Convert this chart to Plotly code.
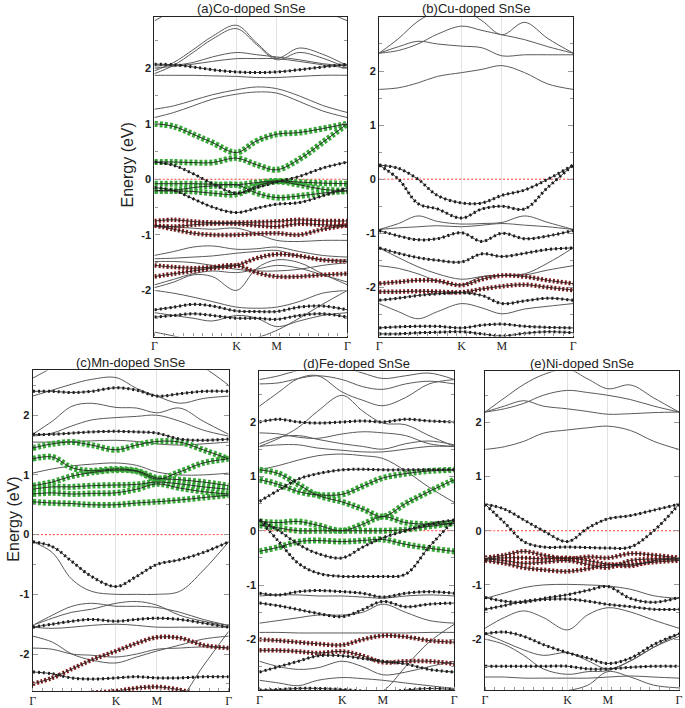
import plotly.graph_objects as go

W, H = 685, 708

# k-path: Γ -> K -> M -> Γ (normalised path length)
K_POS = 0.425
M_POS = 0.633
kpts = [0.0, 0.1, 0.2, 0.3, K_POS, 0.53, M_POS, 0.75, 0.87, 1.0]
path_labels = ["Γ", "K", "M", "Γ"]
energy_ticks = [-2, -1, 0, 1, 2]
energy_text = ["-2", "-1", "0", "1", "2"]

# ---- (a) Co-doped SnSe ----
co_gray = [
    [2.85, 3.05, 3.3, 3.4, 3.5, 3.4, 3.3, 3.3, 3.05, 2.85],
    [1.95, 2.1, 2.33, 2.57, 2.77, 2.45, 2.18, 2.36, 2.25, 2.04],
    [1.90, 2.05, 2.28, 2.52, 2.71, 2.42, 2.15, 2.28, 2.18, 2.0],
    [2.04, 2.05, 2.1, 2.2, 2.28, 2.24, 2.2, 2.15, 2.08, 2.04],
    [2.0, 2.03, 2.07, 2.12, 2.17, 2.17, 2.17, 2.12, 2.06, 2.0],
    [1.87, 1.87, 1.87, 1.86, 1.85, 1.83, 1.83, 1.85, 1.87, 1.87],
    [1.26, 1.32, 1.42, 1.52, 1.61, 1.66, 1.63, 1.5, 1.33, 1.2],
    [1.11, 1.2, 1.32, 1.44, 1.53, 1.57, 1.55, 1.4, 1.23, 1.11],
    [-0.85, -0.86, -0.88, -0.9, -0.88, -0.98, -1.1, -1.12, -1.1, -1.1],
    [-1.37, -1.3, -1.22, -1.2, -1.26, -1.25, -1.22, -1.3, -1.37, -1.4],
    [-1.43, -1.42, -1.4, -1.38, -1.33, -1.3, -1.28, -1.38, -1.45, -1.45],
    [-1.48, -1.48, -1.5, -1.55, -1.62, -1.65, -1.65, -1.62, -1.55, -1.5],
    [-1.9, -1.8, -1.7, -1.65, -1.68, -1.62, -1.55, -1.6, -1.72, -1.85],
    [-1.95, -1.85, -1.72, -1.75, -2.0, -1.6, -1.45, -1.5, -1.7, -1.9],
    [-2.0, -2.05, -2.12, -2.2, -2.3, -2.32, -2.3, -2.2, -2.05, -2.0],
    [-2.4, -2.45, -2.5, -2.55, -2.45, -2.5, -2.65, -2.55, -2.45, -2.4],
    [-2.75, -2.82, -2.9, -2.95, -2.92, -2.85, -2.72, -2.5, -2.25, -2.0],
]
co_dots = [
    [2.07, 2.06, 2.02, 1.97, 1.93, 1.92, 1.93, 1.97, 2.02, 2.07],
    [0.31, 0.25, 0.1, -0.08, -0.25, -0.15, -0.05, 0.05, 0.2, 0.31],
    [-0.15, -0.2, -0.35, -0.5, -0.6, -0.52, -0.45, -0.42, -0.3, -0.15],
    [-2.35, -2.3, -2.25, -2.28, -2.37, -2.38, -2.38, -2.3, -2.28, -2.35],
    [-2.48, -2.45, -2.42, -2.45, -2.5, -2.5, -2.52, -2.45, -2.42, -2.48],
]
co_green = [
    [1.0, 0.95, 0.81, 0.66, 0.48, 0.69, 0.81, 0.84, 0.91, 1.0],
    [0.31, 0.31, 0.3, 0.3, 0.38, 0.26, 0.17, 0.36, 0.66, 1.0],
    [-0.08, -0.08, -0.08, -0.09, -0.1, -0.06, -0.03, -0.05, -0.07, -0.08],
    [-0.21, -0.21, -0.22, -0.25, -0.27, -0.12, -0.04, -0.1, -0.18, -0.21],
    [-0.2, -0.2, -0.15, -0.12, -0.1, -0.25, -0.33, -0.3, -0.25, -0.21],
]
co_red = [
    [-0.75, -0.73, -0.76, -0.78, -0.78, -0.77, -0.76, -0.73, -0.75, -0.75],
    [-0.83, -0.85, -0.82, -0.8, -0.8, -0.83, -0.85, -0.8, -0.82, -0.83],
    [-0.83, -0.9, -0.97, -1.0, -1.0, -0.98, -0.97, -1.0, -0.9, -0.83],
    [-1.75, -1.7, -1.65, -1.6, -1.55, -1.42, -1.35, -1.38, -1.45, -1.48],
    [-1.55, -1.58, -1.6, -1.58, -1.55, -1.68, -1.75, -1.75, -1.72, -1.7],
]

# ---- (b) Cu-doped SnSe ----
cu_gray = [
    [2.33, 2.6, 2.92, 3.1, 3.15, 2.93, 2.67, 2.9, 2.6, 2.33],
    [2.33, 2.38, 2.5, 2.68, 2.83, 2.75, 2.67, 2.58, 2.45, 2.33],
    [2.33, 2.45, 2.55, 2.5, 2.46, 2.43, 2.28, 2.3, 2.3, 2.3],
    [1.66, 1.69, 1.78, 1.9, 1.97, 2.03, 2.1, 1.97, 1.76, 1.66],
    [-0.93, -0.82, -0.68, -0.78, -0.83, -0.82, -0.8, -0.68, -0.8, -0.93],
    [-0.93, -0.9, -0.88, -0.86, -0.88, -0.85, -0.82, -0.85, -0.88, -0.93],
    [-1.27, -1.45, -1.62, -1.75, -1.85, -1.8, -1.78, -1.75, -1.55, -1.27],
    [-1.6, -1.65, -1.75, -1.88, -1.95, -1.8, -1.78, -1.77, -1.68, -1.6],
    [-2.3, -2.45, -2.58, -2.45, -2.3, -2.38, -2.49, -2.4, -2.35, -2.3],
]
cu_dots = [
    [0.26, 0.0, -0.45, -0.55, -0.72, -0.55, -0.5, -0.55, -0.15, 0.26],
    [0.26, 0.2, 0.0, -0.3, -0.44, -0.44, -0.3, -0.2, 0.0, 0.26],
    [-0.95, -1.05, -1.12, -1.1, -0.99, -1.15, -1.0, -1.1, -1.05, -0.95],
    [-1.27, -1.37, -1.45, -1.5, -1.53, -1.38, -1.43, -1.37, -1.3, -1.27],
    [-2.24, -2.2, -2.15, -2.12, -2.1, -2.15, -2.3, -2.25, -2.2, -2.24],
    [-2.75, -2.73, -2.72, -2.72, -2.75, -2.7, -2.68, -2.72, -2.74, -2.75],
    [-2.86, -2.86, -2.84, -2.83, -2.82, -2.86, -2.9, -2.85, -2.82, -2.84],
]
cu_green = []
cu_red = [
    [-1.93, -1.9, -1.87, -1.88, -1.96, -1.85, -1.78, -1.8, -1.87, -1.93],
    [-2.08, -2.08, -2.07, -2.08, -2.09, -2.03, -1.98, -1.95, -2.0, -2.05],
]

# ---- (c) Mn-doped SnSe ----
mn_gray = [
    [2.62, 2.8, 3.0, 3.1, 3.1, 3.1, 3.0, 2.95, 2.8, 2.5],
    [2.32, 2.42, 2.52, 2.6, 2.63, 2.45, 2.32, 2.2, 2.28, 2.32],
    [1.68, 1.9, 2.15, 2.2, 2.13, 2.12, 2.04, 2.12, 1.9, 1.68],
    [1.65, 1.7, 1.82, 1.92, 1.96, 1.98, 2.0, 1.9, 1.75, 1.65],
    [1.55, 1.55, 1.56, 1.57, 1.58, 1.56, 1.52, 1.5, 1.52, 1.55],
    [1.03, 1.1, 1.15, 1.18, 1.2, 1.16, 1.05, 1.0, 1.0, 1.03],
    [-0.12, -0.3, -0.75, -0.95, -1.0, -1.0, -1.0, -0.95, -0.6, -0.12],
    [-1.52, -1.35, -1.2, -1.15, -1.2, -1.2, -1.22, -1.3, -1.42, -1.52],
    [-1.52, -1.4, -1.3, -1.25, -1.15, -1.12, -1.18, -1.35, -1.45, -1.52],
    [-1.55, -1.57, -1.55, -1.52, -1.5, -1.52, -1.55, -1.55, -1.55, -1.55],
    [-1.7, -1.8, -2.0, -2.1, -2.15, -2.05, -1.95, -1.85, -1.75, -1.7],
    [-1.9, -1.92, -2.0, -2.02, -2.05, -2.0, -1.92, -1.9, -1.88, -1.9],
    [-2.9, -3.1, -3.3, -3.3, -3.2, -3.1, -2.95, -2.75, -2.2, -1.62],
]
mn_dots = [
    [2.4, 2.4, 2.38, 2.4, 2.46, 2.42, 2.32, 2.36, 2.4, 2.4],
    [1.68, 1.68, 1.7, 1.72, 1.73, 1.72, 1.7, 1.6, 1.58, 1.6],
    [-0.12, -0.2, -0.45, -0.7, -0.87, -0.7, -0.5, -0.42, -0.3, -0.12],
    [-1.55, -1.5, -1.45, -1.42, -1.45, -1.42, -1.4, -1.42, -1.48, -1.55],
    [-2.3, -2.33, -2.4, -2.42, -2.4, -2.38, -2.4, -2.4, -2.38, -2.38],
]
mn_green = [
    [1.45, 1.52, 1.55, 1.5, 1.42, 1.5, 1.56, 1.55, 1.42, 1.27],
    [1.27, 1.3, 1.12, 1.07, 1.1, 1.07, 0.95, 0.92, 0.88, 0.82],
    [0.82, 0.88, 0.98, 1.04, 1.08, 1.06, 0.93, 1.05, 1.2, 1.27],
    [0.76, 0.8, 0.8, 0.82, 0.83, 0.84, 0.88, 0.85, 0.8, 0.76],
    [0.68, 0.7, 0.68, 0.69, 0.7, 0.76, 0.85, 0.78, 0.72, 0.68],
    [0.55, 0.53, 0.52, 0.5, 0.5, 0.53, 0.55, 0.58, 0.62, 0.66],
]
mn_red = [
    [-2.5, -2.4, -2.25, -2.1, -1.95, -1.82, -1.72, -1.73, -1.85, -1.9],
    [-2.75, -2.75, -2.7, -2.65, -2.62, -2.57, -2.55, -2.6, -2.7, -2.75],
]

# ---- (d) Fe-doped SnSe ----
fe_gray = [
    [2.78, 2.85, 2.95, 3.0, 3.0, 2.9, 2.8, 2.85, 2.9, 2.78],
    [2.7, 2.72, 2.8, 2.85, 2.78, 2.65, 2.6, 2.7, 2.75, 2.7],
    [2.29, 2.55, 2.8, 2.85, 2.55, 2.4, 2.3, 2.45, 2.7, 2.78],
    [1.55, 1.7, 1.9, 2.2, 2.49, 2.2, 1.98, 1.95, 1.75, 1.55],
    [1.8, 1.78, 1.72, 1.7, 1.78, 1.82, 1.8, 1.75, 1.6, 1.55],
    [1.6, 1.72, 1.75, 1.68, 1.6, 1.55, 1.5, 1.6, 1.65, 1.58],
    [1.55, 1.58, 1.58, 1.52, 1.48, 1.45, 1.45, 1.5, 1.55, 1.55],
    [1.12, 1.2, 1.3, 1.38, 1.41, 1.38, 1.33, 1.1, 0.8, 0.52],
    [-1.2, -1.18, -1.18, -1.2, -1.2, -1.22, -1.24, -1.2, -1.18, -1.2],
    [-1.7, -1.65, -1.6, -1.55, -1.55, -1.5, -1.35, -1.5, -1.65, -1.7],
    [-1.87, -1.87, -1.88, -1.88, -1.88, -1.88, -1.88, -1.88, -1.87, -1.87],
    [-2.4, -2.5, -2.55, -2.52, -2.4, -2.5, -2.65, -2.6, -2.5, -2.4],
    [-2.75, -2.8, -2.85, -2.75, -2.7, -2.72, -2.75, -2.8, -2.85, -2.9],
    [-3.2, -3.2, -3.2, -3.1, -3.1, -3.05, -2.95, -2.5, -2.05, -1.72],
]
fe_dots = [
    [2.0, 2.05, 2.0, 1.98, 2.0, 2.02, 2.0, 2.05, 2.02, 2.0],
    [0.54, 0.75, 0.95, 1.05, 1.12, 1.13, 1.12, 1.12, 1.12, 1.12],
    [0.2, 0.0, -0.25, -0.42, -0.5, -0.3, -0.13, 0.0, 0.12, 0.2],
    [0.2, -0.2, -0.6, -0.78, -0.84, -0.84, -0.84, -0.8, -0.3, 0.2],
    [-1.15, -1.18, -1.12, -1.1, -1.12, -1.15, -1.22, -1.15, -1.12, -1.15],
    [-1.33, -1.38, -1.45, -1.52, -1.58, -1.45, -1.3, -1.4, -1.35, -1.33],
    [-2.6, -2.5, -2.4, -2.3, -2.3, -2.35, -2.4, -2.45, -2.55, -2.6],
    [-2.93, -2.92, -2.9, -2.9, -2.92, -2.95, -2.98, -2.93, -2.9, -2.92],
]
fe_green = [
    [0.94, 0.85, 0.72, 0.66, 0.67, 0.82, 0.97, 1.05, 1.1, 1.12],
    [1.12, 1.05, 0.85, 0.65, 0.53, 0.4, 0.26, 0.5, 0.72, 0.94],
    [0.17, 0.15, 0.17, 0.1, 0.0, 0.12, 0.26, 0.15, 0.12, 0.14],
    [0.1, 0.05, 0.0, 0.0, 0.0, 0.0, 0.0, 0.02, 0.08, 0.14],
    [-0.38, -0.3, -0.2, -0.18, -0.2, -0.18, -0.16, -0.25, -0.32, -0.38],
]
fe_red = [
    [-2.0, -2.02, -2.05, -2.08, -2.1, -2.0, -1.93, -1.95, -2.02, -2.05],
    [-2.2, -2.2, -2.22, -2.25, -2.22, -2.3, -2.42, -2.4, -2.4, -2.45],
]

# ---- (e) Ni-doped SnSe ----
ni_gray = [
    [2.19, 2.45, 2.7, 2.88, 2.98, 2.8, 2.62, 2.69, 2.45, 2.19],
    [2.19, 2.25, 2.35, 2.5, 2.59, 2.55, 2.5, 2.42, 2.3, 2.19],
    [2.19, 2.3, 2.4, 2.3, 2.25, 2.2, 2.15, 2.16, 2.18, 2.19],
    [1.5, 1.55, 1.65, 1.8, 1.86, 1.9, 1.93, 1.85, 1.65, 1.5],
    [-1.25, -1.15, -1.05, -1.0, -0.99, -1.0, -1.02, -1.08, -1.2, -1.25],
    [-1.8, -1.6, -1.48, -1.6, -1.83, -1.55, -1.42, -1.5, -1.65, -1.8],
    [-1.9, -2.05, -2.2, -2.3, -2.25, -2.4, -2.55, -2.4, -2.15, -1.9],
    [-2.0, -2.1, -2.3, -2.55, -2.65, -2.6, -2.58, -2.4, -2.15, -1.95],
    [-2.7, -2.7, -2.72, -2.72, -2.72, -2.72, -2.7, -2.68, -2.7, -2.72],
    [-3.0, -3.0, -3.0, -2.98, -2.95, -2.85, -2.6, -2.7, -2.85, -2.9],
]
ni_dots = [
    [0.49, 0.4, 0.2, 0.0, -0.2, 0.05, 0.22, 0.28, 0.38, 0.49],
    [0.49, 0.15, -0.2, -0.3, -0.3, -0.31, -0.32, -0.3, 0.0, 0.49],
    [-1.23, -1.3, -1.32, -1.25, -1.18, -1.1, -1.03, -1.25, -1.32, -1.23],
    [-1.45, -1.38, -1.3, -1.27, -1.26, -1.3, -1.36, -1.4, -1.45, -1.45],
    [-1.9, -1.87, -1.95, -2.1, -2.25, -2.35, -2.45, -2.35, -2.1, -1.9],
    [-2.5, -2.5, -2.5, -2.5, -2.5, -2.55, -2.55, -2.52, -2.5, -2.5],
]
ni_green = []
ni_red = [
    [-0.5, -0.45, -0.38, -0.45, -0.52, -0.48, -0.5, -0.42, -0.45, -0.5],
    [-0.52, -0.55, -0.6, -0.58, -0.55, -0.62, -0.68, -0.55, -0.52, -0.52],
    [-0.55, -0.6, -0.68, -0.72, -0.75, -0.7, -0.63, -0.62, -0.58, -0.55],
    [-0.52, -0.5, -0.5, -0.52, -0.5, -0.55, -0.62, -0.65, -0.55, -0.52],
]

# panel boxes in pixels: (left, right, top, bottom), energy range, x of "Energy (eV)" or None
panels = [
    ("(a)Co-doped SnSe", co_gray, co_dots, co_green, co_red, (153, 348, 17, 338), [-2.83, 2.92], 126),
    ("(b)Cu-doped SnSe", cu_gray, cu_dots, cu_green, cu_red, (380, 576, 17, 338), [-2.91, 3.0], None),
    ("(c)Mn-doped SnSe", mn_gray, mn_dots, mn_green, mn_red, (30, 228, 372, 694), [-2.62, 2.75], 11),
    ("(d)Fe-doped SnSe", fe_gray, fe_dots, fe_green, fe_red, (259, 456, 373, 693), [-2.93, 2.93], None),
    ("(e)Ni-doped SnSe", ni_gray, ni_dots, ni_green, ni_red, (487, 683, 373, 693), [-2.94, 2.94], None),
]

fig = go.Figure()
annotations = []
axis_layout = {}

for i, (title, gray, dots, green, red, box, yr, label_x) in enumerate(panels):
    n = "" if i == 0 else str(i + 1)
    xa, ya = "x" + n, "y" + n

    def line(ys, color, width, dash="solid"):
        fig.add_trace(go.Scatter(
            x=kpts, y=ys, mode="lines", xaxis=xa, yaxis=ya, showlegend=False,
            hoverinfo="skip",
            line=dict(color=color, width=width, dash=dash, shape="spline", smoothing=1.0),
        ))

    # Fermi level
    line([0] * len(kpts), "#ff3030", 1, "2px,2px")
    for b in gray:
        line(b, "#5a5a5a", 1)
    for b in red:
        line(b, "#7e1a1a", 4.5, "2px,2px")
    for b in green:
        line(b, "#38a838", 6, "3px,2px")
    for b in dots:
        line(b, "#1a1a1a", 3, "2px,3px")
    for b in dots + red + green:
        line(b, "#222222", 0.9)

    x0, x1, y0, y1 = box
    axis_layout["xaxis" + n] = dict(
        domain=[x0 / W, x1 / W], anchor=ya, range=[0, 1],
        tickmode="array", tickvals=[0, K_POS, M_POS, 1], ticktext=path_labels,
        ticks="", showgrid=True, gridcolor="#e2e2e2", gridwidth=1,
        showline=True, linecolor="#222", linewidth=1.2, mirror=True,
        zeroline=False, ticklabelstandoff=-2,
        tickfont=dict(family="Liberation Serif", size=12, color="#222"),
        minor=dict(ticks="inside", dtick=0.05, ticklen=3, tickcolor="#999", showgrid=False),
    )
    axis_layout["yaxis" + n] = dict(
        domain=[1 - y1 / H, 1 - y0 / H], anchor=xa, range=yr,
        tickmode="array", tickvals=energy_ticks, ticktext=energy_text,
        ticks="inside", ticklen=5, tickcolor="#999", showgrid=False,
        showline=True, linecolor="#222", linewidth=1.2, mirror="ticks",
        zeroline=False, tickfont=dict(family="Liberation Sans", size=11, color="#222", weight="bold"),
        minor=dict(ticks="inside", dtick=0.5, tick0=0, ticklen=3, tickcolor="#999"),
    )
    annotations.append(dict(
        text=title, x=(x0 + x1) / 2 / W, y=1 - (y0 - 8) / H, xref="paper", yref="paper",
        showarrow=False, xanchor="center", yanchor="middle", borderpad=0,
        font=dict(family="Liberation Sans", size=13, color="#222"),
    ))
    if label_x is not None:
        annotations.append(dict(
            text="Energy (eV)", x=label_x / W, y=1 - ((y0 + y1) / 2 - 12) / H,
            xref="paper", yref="paper", showarrow=False, textangle=-90,
            xanchor="center", yanchor="middle",
            font=dict(family="Liberation Sans", size=16, color="#222"),
        ))

fig.update_layout(
    width=W, height=H, autosize=False,
    margin=dict(l=0, r=0, t=0, b=0),
    paper_bgcolor="white", plot_bgcolor="white",
    annotations=annotations, showlegend=False,
    **axis_layout,
)
# drop the browser's default body margin so the figure sits at (0, 0)
fig.write_html(
    "out.html",
    config={"displayModeBar": False},
    post_script="document.body.style.margin='0';",
)
